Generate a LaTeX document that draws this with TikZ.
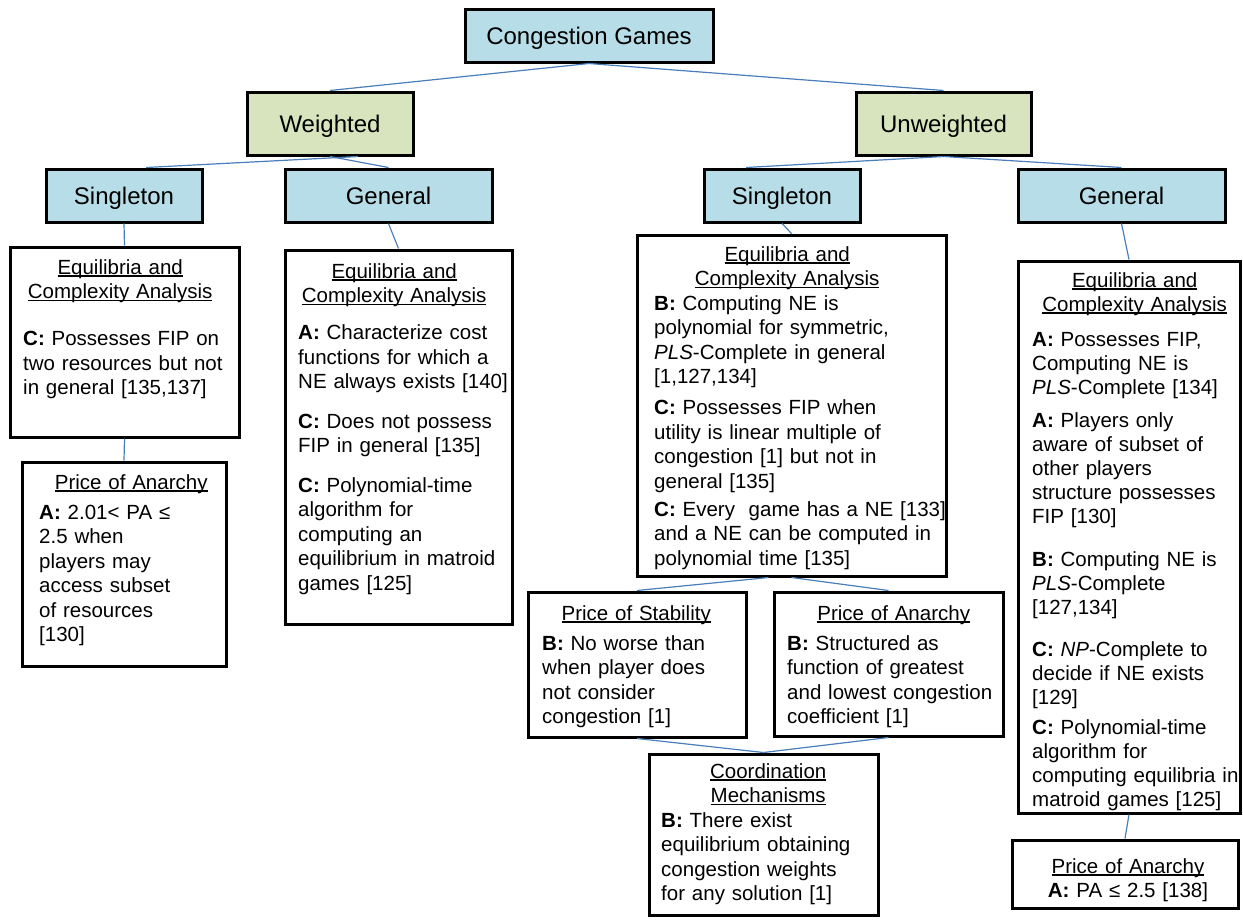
\documentclass[tikz,border=0pt]{standalone}
\usepackage{fontspec}
\setmainfont{Liberation Sans}
\usepackage{tikz}
\usetikzlibrary{calc}

\definecolor{hdblue}{HTML}{B7DEE8}
\definecolor{hdgreen}{HTML}{D7E4BD}
\definecolor{linkblue}{HTML}{4A7EBB}

%% underlined, centred heading line inside a box
\newcommand{\uln}[1]{\leavevmode\setbox0=\hbox{#1}\rlap{\rule[-2.6pt]{\wd0}{1.2pt}}\box0}
\newcommand{\hd}[1]{{\centering\uln{#1}\par}}
\newcommand{\gap}[1]{\par\vspace{#1}}
% body lines may run past the text width, breaks are given by hand
\newcommand{\bd}{\rightskip=-80pt plus 1fil\relax}
\setlength{\parskip}{0pt}

\begin{document}
\begin{tikzpicture}[x=1pt,y=-1pt,
	head/.style={draw,line width=3pt,inner sep=0pt,text height=18pt,text depth=0pt,
		font=\fontsize{24}{28}\selectfont},
	panel/.style={draw,line width=3pt,inner sep=0pt},
	txt/.style={anchor=base west,inner sep=0pt,font=\fontsize{20.5}{24.5}\selectfont},
	link/.style={linkblue,line width=1.2pt}]
	\useasboundingbox (0,0) rectangle (1243,919);

	%% Headings of the tree
	\node[head,fill=hdblue,minimum width=248,minimum height=53] (cg) at (589,35.5) {Congestion Games};
	\node[head,fill=hdgreen,minimum width=166,minimum height=63] (w) at (330,123.5) {Weighted};
	\node[head,fill=hdgreen,minimum width=175,minimum height=63] (u) at (943.5,123.5) {Unweighted};
	\node[head,fill=hdblue,minimum width=156,minimum height=53] (ws) at (124,195.5) {Singleton};
	\node[head,fill=hdblue,minimum width=207,minimum height=53] (wg) at (388.5,195.5) {General};
	\node[head,fill=hdblue,minimum width=156,minimum height=53] (us) at (782,195.5) {Singleton};
	\node[head,fill=hdblue,minimum width=207,minimum height=53] (ug) at (1121.5,195.5) {General};

	%% Result boxes (frames)
	\node[panel,minimum width=229,minimum height=190] (wsEq) at (124.5,342) {};
	\node[panel,minimum width=204,minimum height=204] (wsPoA) at (124,564) {};
	\node[panel,minimum width=227,minimum height=374] (wgEq) at (398.5,437) {};
	\node[panel,minimum width=309,minimum height=341] (usEq) at (791.5,405.5) {};
	\node[panel,minimum width=218,minimum height=145] (usPoS) at (637,664.5) {};
	\node[panel,minimum width=229,minimum height=144] (usPoA) at (888.5,664) {};
	\node[panel,minimum width=229,minimum height=161] (usCM) at (763.5,834.5) {};
	\node[panel,minimum width=222,minimum height=552] (ugEq) at (1129,537) {};
	\node[panel,minimum width=226,minimum height=68] (ugPoA) at (1125,874) {};

	%% Texts of the boxes
	\node[txt,text width=194] (wsEqT) at (23,274) {\bd
		\hd{Equilibria and}\hd{Complexity Analysis}\gap{22.5pt}
		\textbf{C:} Possesses FIP on\\ two resources but not\\ in general [135,137]};
	\node[txt,text width=184] (wsPoAT) at (39,489) {\bd
		\hd{Price of Anarchy}\gap{5.5pt}
		\textbf{A:} 2.01< PA ≤\\ 2.5 when\\ players may\\ access subset\\ of resources\\{}[130]};
	\node[txt,text width=192] (wgEqT) at (298,278) {\bd
		\hd{Equilibria and}\hd{Complexity Analysis}\gap{12.5pt}
		\textbf{A:} Characterize cost\\ functions for which a\\ NE always exists [140]\gap{15pt}
		\textbf{C:} Does not possess\\ FIP in general [135]\gap{15pt}
		\textbf{C:} Polynomial-time\\ algorithm for\\ computing an\\ equilibrium in matroid\\ games [125]};
	\node[txt,text width=266] (usEqT) at (654,261) {\bd
		\hd{Equilibria and}\hd{Complexity Analysis}
		\textbf{B:} Computing NE is\\ polynomial for symmetric,\\ \textit{PLS}-Complete in general\\{}[1,127,134]\gap{6.5pt}
		\textbf{C:} Possesses FIP when\\ utility is linear multiple of\\ congestion [1] but not in\\ general [135]\gap{3.5pt}
		\textbf{C:} Every\ \ game has a NE [133]\\ and a NE can be computed in\\ polynomial time [135]};
	\node[txt,text width=188] (usPoST) at (542,620) {\bd
		\hd{Price of Stability}\gap{5.5pt}
		\textbf{B:} No worse than\\ when player does\\ not consider\\ congestion [1]};
	\node[txt,text width=213] (usPoAT) at (787,620) {\bd
		\hd{Price of Anarchy}\gap{5.5pt}
		\textbf{B:} Structured as\\ function of greatest\\ and lowest congestion\\ coefficient [1]};
	\node[txt,text width=214] (usCMT) at (661,778) {\bd
		\hd{Coordination}\hd{Mechanisms}
		\textbf{B:} There exist\\ equilibrium obtaining\\ congestion weights\\ for any solution [1]};
	\node[txt,text width=205,font=\fontsize{20.5}{24}\selectfont] (ugEqT) at (1032,287) {\bd
		\hd{Equilibria and}\hd{Complexity Analysis}\gap{11pt}
		\textbf{A:} Possesses FIP,\\ Computing NE is\\ \textit{PLS}-Complete [134]\gap{9pt}
		\textbf{A:} Players only\\ aware of subset of\\ other players\\ structure possesses\\ FIP [130]\gap{19pt}
		\textbf{B:} Computing NE is\\ \textit{PLS}-Complete\\{}[127,134]\gap{18pt}
		\textbf{C:} \textit{NP}-Complete to\\ decide if NE exists\\{}[129]\gap{6pt}
		\textbf{C:} Polynomial-time\\ algorithm for\\ computing equilibria in\\ matroid games [125]};
	\node[txt,anchor=base,text width=210] (ugPoAT) at (1128,873) {%
		\hd{Price of Anarchy}{\centering\textbf{A:} PA ≤ 2.5 [138]\par}};

	%% Connectors
	\foreach \a/\b in {cg/w,cg/u,w/wg,u/ug,ws/wsEq,wg/wgEq,us/usEq,ug/ugEq,
		wsEq/wsPoA,usEq/usPoA,usPoS/usCM,usPoA/usCM,ugEq/ugPoA}
	{
	  \draw[link] (\a.south) -- (\b.north);
	}
	\draw[link] ([xshift=28pt]w.south) -- ([xshift=22pt]ws.north);
	\draw[link] (u.south) -- ([xshift=-36pt]us.north);
	\draw[link] ([xshift=-23pt]usEq.south) -- (usPoS.north);
\end{tikzpicture}
\end{document}
